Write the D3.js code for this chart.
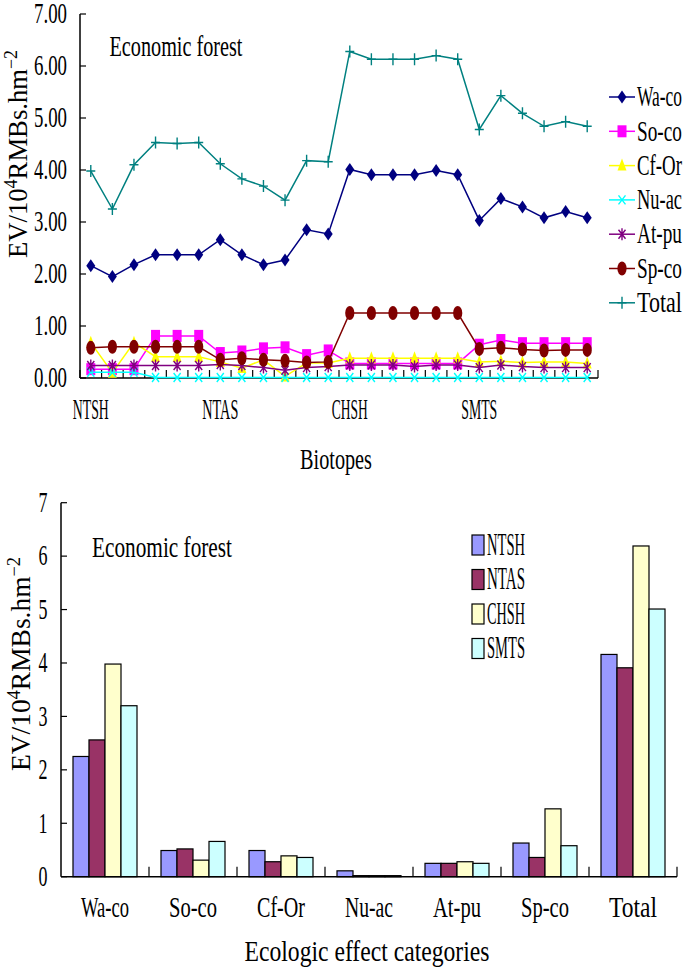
<!DOCTYPE html>
<html><head><meta charset="utf-8">
<script src="https://cdn.jsdelivr.net/npm/d3@7"></script>
<style>
body{margin:0;background:#fff}
svg{display:block}
text{font-family:"Liberation Serif","DejaVu Serif",serif;fill:#000}
</style>
</head><body>
<svg id="c" width="685" height="967"></svg>
<script>
// ---------- data ----------
const biotopes = ["NTSH","NTAS","CHSH","SMTS"];
const pointsPerBiotope = 6;
const lineSeries = ["Wa-co","So-co","Cf-Or","Nu-ac","At-pu","Sp-co","Total"];
const waco  = [2.16,1.95,2.18,2.37,2.37,2.37,2.66,2.37,2.18,2.27,2.85,2.77,4.01,3.91,3.91,3.91,3.99,3.91,3.03,3.45,3.29,3.08,3.20,3.08];
const soco  = [0.17,0.17,0.17,0.81,0.81,0.81,0.48,0.51,0.57,0.59,0.44,0.53,0.28,0.28,0.28,0.28,0.28,0.28,0.64,0.73,0.67,0.67,0.67,0.67];
const cfor  = [0.68,0.10,0.68,0.41,0.41,0.41,0.31,0.19,0.35,0.03,0.29,0.29,0.38,0.38,0.38,0.38,0.38,0.38,0.31,0.32,0.30,0.31,0.31,0.28];
const nuac  = [0.11,0.11,0.11,0.01,0.01,0.01,0.01,0.01,0.01,0.01,0.01,0.01,0.01,0.01,0.01,0.01,0.01,0.01,0.01,0.01,0.01,0.01,0.01,0.01];
const atpu  = [0.24,0.24,0.24,0.24,0.24,0.24,0.26,0.24,0.20,0.15,0.20,0.22,0.25,0.25,0.25,0.22,0.25,0.25,0.20,0.25,0.22,0.20,0.20,0.20];
const spco  = [0.58,0.60,0.60,0.60,0.60,0.60,0.35,0.38,0.35,0.33,0.30,0.31,1.25,1.25,1.25,1.25,1.25,1.25,0.56,0.58,0.55,0.53,0.54,0.54];
const total = [3.98,3.25,4.10,4.53,4.51,4.53,4.12,3.83,3.69,3.42,4.18,4.16,6.28,6.13,6.13,6.13,6.20,6.13,4.78,5.43,5.09,4.84,4.93,4.84];
const topTicks = [0,1,2,3,4,5,6,7];

const categories = ["Wa-co","So-co","Cf-Or","Nu-ac","At-pu","Sp-co","Total"];
const barNTSH = [2.25,0.49,0.49,0.11,0.25,0.63,4.16];
const barNTAS = [2.56,0.52,0.28,0.02,0.25,0.36,3.91];
const barCHSH = [3.98,0.31,0.39,0.02,0.28,1.27,6.19];
const barSMTS = [3.20,0.66,0.36,0.02,0.25,0.58,5.01];
const bottomTicks = [0,1,2,3,4,5,6,7];

// ---------- styles ----------
const lineColors = ["#000080","#FF00FF","#FFFF00","#00FFFF","#800080","#800000","#008080"];
const lineMarkers = ["diamond","square","triangle","xmark","asterisk","circle","plus"];
const barColors = ["#9999FF","#993366","#FFFFCC","#CCFFFF"];

const svg = d3.select("#c");

// text helper: (x,y) is the vertical centre of capitals; width squeezes text horizontally
function T(parent, build, x, y, o) {
  o = o || {};
  const size = o.size || 29;
  const g = parent.append("g");
  const t = g.append("text").attr("font-size", size)
    .attr("text-anchor", o.anchor || "middle").attr("y", size * 0.32);
  if (typeof build === "string") t.text(build); else build(t);
  const w = t.node().getComputedTextLength();
  const sx = o.width ? o.width / w : 1;
  g.attr("transform", `translate(${x},${y})` + (o.rotate ? ` rotate(${o.rotate})` : "") + ` scale(${sx},1)`);
  return g;
}

function marker(g, type, color, cx, cy) {
  const m = g.append("g").attr("transform", `translate(${cx},${cy})`);
  if (type === "diamond") m.append("path").attr("d","M0,-6.5L4.5,0L0,6.5L-4.5,0Z").attr("fill",color);
  else if (type === "square") m.append("rect").attr("x",-4.5).attr("y",-6).attr("width",9).attr("height",12).attr("fill",color);
  else if (type === "triangle") m.append("path").attr("d","M0,-7L4.5,5L-4.5,5Z").attr("fill",color);
  else if (type === "circle") m.append("ellipse").attr("rx",4.6).attr("ry",7).attr("fill",color);
  else if (type === "xmark") m.append("path").attr("d","M-3.5,-4.5L3.5,4.5M-3.5,4.5L3.5,-4.5").attr("stroke",color).attr("stroke-width",1.4).attr("fill","none");
  else if (type === "asterisk") m.append("path").attr("d","M-3.5,-4.5L3.5,4.5M-3.5,4.5L3.5,-4.5M0,-6L0,6").attr("stroke",color).attr("stroke-width",1.4).attr("fill","none");
  else if (type === "plus") m.append("path").attr("d","M-4.5,0L4.5,0M0,-6L0,6").attr("stroke",color).attr("stroke-width",1.4).attr("fill","none");
}

function yTitle(parent, x, y, width) {
  T(parent, t => {
    t.append("tspan").text("EV/10");
    t.append("tspan").attr("baseline-shift","super").attr("font-size",18).text("4");
    t.append("tspan").text("RMBs.hm");
    t.append("tspan").attr("baseline-shift","super").attr("font-size",18).text("\u22122");
  }, x, y, {rotate:-90, width:width, size:27});
}

// ================= TOP CHART =================
const topSeries = [waco, soco, cfor, nuac, atpu, spco, total];
const nPts = biotopes.length * pointsPerBiotope;
const xT = d3.scaleBand().domain(d3.range(nPts)).range([80, 598]);
const yT = d3.scaleLinear().domain([0, 7]).range([378, 14]);
const cx = i => xT(i) + xT.bandwidth() / 2;
const topG = svg.append("g");

// y axis
topG.append("line").attr("x1",80).attr("x2",80).attr("y1",yT(7)).attr("y2",yT(0)).attr("stroke","#000").attr("stroke-width",1.5);
topTicks.forEach(v => {
  topG.append("line").attr("x1",80).attr("x2",86).attr("y1",yT(v)).attr("y2",yT(v)).attr("stroke","#000").attr("stroke-width",1.2);
  T(topG, d3.format(".2f")(v), 67, yT(v), {anchor:"end", width:33});
});
// x axis
topG.append("line").attr("x1",80).attr("x2",598).attr("y1",yT(0)).attr("y2",yT(0)).attr("stroke","#000").attr("stroke-width",1.5);
d3.range(nPts + 1).forEach(i => {
  const x = i < nPts ? xT(i) : 598;
  topG.append("line").attr("x1",x).attr("x2",x).attr("y1",yT(0)).attr("y2",yT(0)-8).attr("stroke","#000").attr("stroke-width",1.2);
});
biotopes.forEach((b, k) => T(topG, b, cx(k * pointsPerBiotope), 410, {width:36}));
T(topG, "Biotopes", 336, 460, {width:72});
T(topG, "Economic forest", 176, 47, {width:133});
yTitle(topG, 18, 154, 208);

// lines
const lineGen = d3.line().x((d, i) => cx(i)).y(d => yT(d));
topSeries.forEach((s, k) => {
  topG.append("path").attr("d", lineGen(s)).attr("fill","none")
    .attr("stroke", lineColors[k]).attr("stroke-width", 1.5);
  s.forEach((v, i) => marker(topG, lineMarkers[k], lineColors[k], cx(i), yT(v)));
});
// legend
lineSeries.forEach((name, k) => {
  const y = 97 + k * 34.3;
  topG.append("line").attr("x1",609).attr("x2",635).attr("y1",y).attr("y2",y).attr("stroke",lineColors[k]).attr("stroke-width",1.5);
  marker(topG, lineMarkers[k], lineColors[k], 622, y);
  T(topG, name, 637, y, {anchor:"start", width:45});
});

// ================= BOTTOM CHART =================
const bars = [barNTSH, barNTAS, barCHSH, barSMTS];
const bot = svg.append("g");
const xB = d3.scaleBand().domain(categories).range([61, 677]);
const xIn = d3.scaleBand().domain(biotopes).range([12, xB.bandwidth() - 12]);
const yB = d3.scaleLinear().domain([0, 7]).range([876.7, 502.7]);

categories.forEach((c, ci) => {
  biotopes.forEach((b, bi) => {
    const v = bars[bi][ci];
    bot.append("rect").attr("x", xB(c) + xIn(b)).attr("width", xIn.bandwidth())
      .attr("y", yB(v)).attr("height", yB(0) - yB(v))
      .attr("fill", barColors[bi]).attr("stroke", "#000").attr("stroke-width", 1.2);
  });
  T(bot, c, xB(c) + xB.bandwidth() / 2, 908, {width:48});
});
bot.append("line").attr("x1",61).attr("x2",61).attr("y1",yB(7)).attr("y2",yB(0)).attr("stroke","#000").attr("stroke-width",1.5);
bottomTicks.forEach(v => {
  bot.append("line").attr("x1",61).attr("x2",67).attr("y1",yB(v)).attr("y2",yB(v)).attr("stroke","#000").attr("stroke-width",1.2);
  T(bot, String(v), 43, yB(v), {width:9});
});
bot.append("line").attr("x1",61).attr("x2",677).attr("y1",yB(0)).attr("y2",yB(0)).attr("stroke","#000").attr("stroke-width",1.5);
categories.forEach((c, ci) => {
  const x = xB(c) + xB.bandwidth();
  bot.append("line").attr("x1",x).attr("x2",x).attr("y1",yB(0)).attr("y2",yB(0)-10).attr("stroke","#000").attr("stroke-width",1.2);
});
T(bot, "Economic forest", 162, 548, {width:140});
T(bot, "Ecologic effect categories", 367, 952, {width:245});
yTitle(bot, 21, 664, 214);
// legend
biotopes.forEach((b, k) => {
  const y = 545 + k * 34.5;
  bot.append("rect").attr("x",472).attr("y",y-10).attr("width",12).attr("height",20)
    .attr("fill",barColors[k]).attr("stroke","#000").attr("stroke-width",1.2);
  T(bot, b, 487, y, {anchor:"start", width:38, size:31});
});
</script>
</body></html>
